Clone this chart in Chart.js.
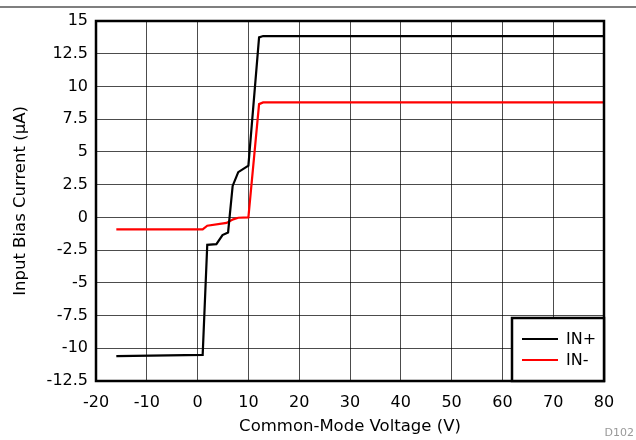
<!DOCTYPE html>
<html>
<head>
<meta charset="utf-8">
<script src="https://cdn.jsdelivr.net/npm/chart.js@4/dist/chart.umd.min.js"></script>
<style>
  body { margin: 0; background: #fff; }
  #wrap { width: 636px; height: 440px; }
</style>
</head>
<body>
<div id="wrap"><canvas id="myChart"></canvas></div>
<script>
// Values
const inPlusV = [-16, 1.0, 1.9, 3.7, 4.9, 6.0, 6.9, 8.0, 10.0, 12.1, 12.9, 80];
const inPlusI = [-10.6, -10.5, -2.1, -2.05, -1.35, -1.15, 2.4, 3.45, 3.95, 13.75, 13.85, 13.85];
const inMinusV = [-16, 1.0, 1.9, 5.7, 7.0, 8.0, 10.0, 12.1, 12.9, 80];
const inMinusI = [-0.92, -0.92, -0.64, -0.42, -0.15, -0.03, 0.0, 8.65, 8.78, 8.78];
const xTicks = [-20, -10, 0, 10, 20, 30, 40, 50, 60, 70, 80];
const yTicks = [-12.5, -10, -7.5, -5, -2.5, 0, 2.5, 5, 7.5, 10, 12.5, 15];
const seriesNames = ['IN+', 'IN-'];
const seriesColors = ['#000000', '#ff0000'];

const toPoints = (xs, ys) => xs.map((x, i) => ({ x: x, y: ys[i] }));
const FONT = 'DejaVu Sans, Liberation Sans, Arial, sans-serif';

// frame, top rule, legend box and figure id
const decorPlugin = {
    id: 'decor',
    afterDraw: (chart) => {
        const ctx = chart.ctx;
        const a = chart.chartArea;
        ctx.save();
        // top rule
        ctx.beginPath();
        ctx.moveTo(0, 7);
        ctx.lineTo(chart.width, 7);
        ctx.lineWidth = 1.2;
        ctx.strokeStyle = '#000';
        ctx.stroke();
        // plot frame
        ctx.lineWidth = 2.5;
        ctx.strokeRect(a.left, a.top, a.right - a.left, a.bottom - a.top);
        // legend
        const lx = 512, ly = 318, lw = a.right - 512, lh = a.bottom - 318;
        ctx.fillStyle = '#fff';
        ctx.fillRect(lx, ly, lw, lh);
        ctx.lineWidth = 2.5;
        ctx.strokeStyle = '#000';
        ctx.strokeRect(lx, ly, lw, lh);
        ctx.font = '16px ' + FONT;
        ctx.textBaseline = 'middle';
        seriesNames.forEach((name, i) => {
            const yy = ly + 21 + i * 21;
            ctx.beginPath();
            ctx.moveTo(lx + 10, yy);
            ctx.lineTo(lx + 46, yy);
            ctx.lineWidth = 2;
            ctx.strokeStyle = seriesColors[i];
            ctx.stroke();
            ctx.fillStyle = '#000';
            ctx.fillText(name, lx + 54, yy + 1);
        });
        // figure id
        ctx.font = '11px ' + FONT;
        ctx.fillStyle = '#999';
        ctx.textAlign = 'right';
        ctx.fillText('D102', chart.width - 2, 433);
        ctx.restore();
    }
};

const ctx = document.getElementById('myChart').getContext('2d');
const myChart = new Chart(ctx, {
    type: 'line',
    data: {
        datasets: [
            {
                label: seriesNames[0],
                data: toPoints(inPlusV, inPlusI),
                borderColor: seriesColors[0],
                borderWidth: 2.2,
                pointRadius: 0,
                fill: false,
                tension: 0
            },
            {
                label: seriesNames[1],
                data: toPoints(inMinusV, inMinusI),
                borderColor: seriesColors[1],
                borderWidth: 2.2,
                pointRadius: 0,
                fill: false,
                tension: 0
            }
        ]
    },
    options: {
        responsive: true,
        maintainAspectRatio: false,
        animation: false,
        layout: { padding: { left: 0, right: 32, top: 21, bottom: 0 } },
        plugins: {
            legend: { display: false },
            tooltip: { enabled: false }
        },
        scales: {
            x: {
                type: 'linear',
                min: -20,
                max: 80,
                afterBuildTicks: (axis) => { axis.ticks = xTicks.map(v => ({ value: v })); },
                afterFit: (axis) => { axis.height = 59; },
                grid: { color: 'rgba(0,0,0,0.7)', lineWidth: 1, drawTicks: false },
                border: { display: false },
                ticks: {
                    color: '#000',
                    font: { family: FONT, size: 16 },
                    padding: 12,
                    maxRotation: 0
                },
                title: {
                    display: true,
                    text: 'Common-Mode Voltage (V)',
                    color: '#000',
                    font: { family: FONT, size: 16.5 },
                    padding: { top: 2, bottom: 3 }
                }
            },
            y: {
                min: -12.5,
                max: 15,
                afterBuildTicks: (axis) => { axis.ticks = yTicks.map(v => ({ value: v })); },
                afterFit: (axis) => { axis.width = 96; },
                grid: { color: 'rgba(0,0,0,0.7)', lineWidth: 1, drawTicks: false },
                border: { display: false },
                ticks: {
                    color: '#000',
                    font: { family: FONT, size: 16 },
                    padding: 8,
                    callback: (value) => String(value)
                },
                title: {
                    display: true,
                    text: 'Input Bias Current (\u00b5A)',
                    color: '#000',
                    font: { family: FONT, size: 16.5 },
                    padding: { top: 11, bottom: 4 }
                }
            }
        }
    },
    plugins: [decorPlugin]
});
</script>
</body>
</html>
